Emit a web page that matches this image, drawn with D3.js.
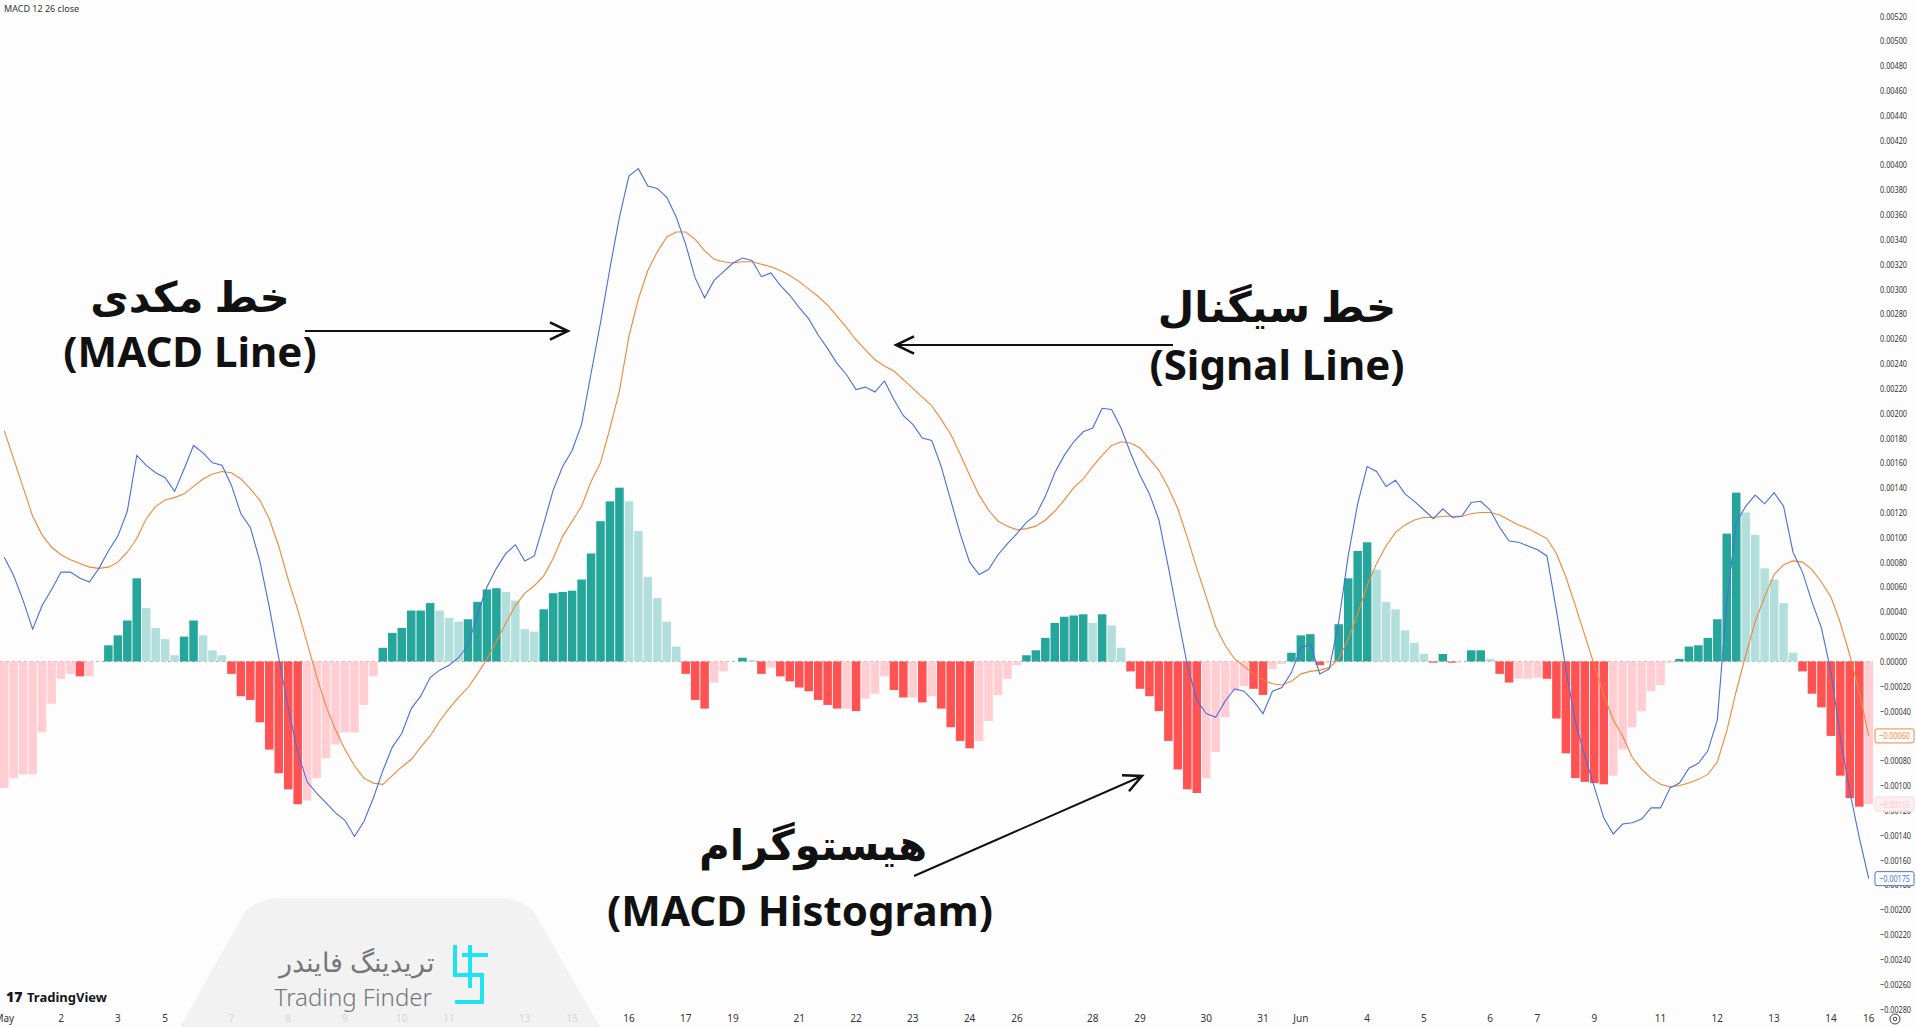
<!DOCTYPE html>
<html>
<head>
<meta charset="utf-8">
<script src="https://d3js.org/d3.v7.min.js"></script>
<style>
  body { margin: 0; background: #fdfdfd; overflow: hidden; }
  text { font-family: "Noto Sans", "DejaVu Sans", sans-serif; }
</style>
</head>
<body>
<script>
// histogram values (MACD - signal), one per bar
var hist = [
  -0.00102,-0.00094,-0.00091,-0.00091,-0.00057,-0.00034,-0.00014,-0.0001,-0.00012,-0.00012,
  0,
  0.00013,0.00021,0.00033,0.00067,0.00043,0.00027,0.00018,0.00005,0.0002,0.00033,0.00021,0.00009,0.00005,
  -0.0001,-0.00028,-0.00031,-0.00049,-0.00071,-0.0009,-0.00103,-0.00115,-0.00112,-0.00094,-0.00078,-0.00067,-0.00057,-0.00057,-0.00035,-0.00012,
  0.00011,0.00023,0.00027,0.00041,0.00041,0.00047,0.00041,0.00035,0.00032,0.00034,0.00048,0.00058,0.00059,0.00056,0.00049,0.00026,0.00024,0.00042,0.00055,0.00056,0.00057,0.00066,0.00087,0.00113,0.00129,0.0014,0.00129,0.00105,
  0.00068,0.00051,0.00032,0.00012,-0.0001,-0.00031,-0.00038,-0.00017,-0.00008,0,0.00003,0.00001,-0.0001,-0.00005,-0.00012,-0.00016,-0.00021,-0.00024,-0.00031,-0.00035,-0.00038,-0.00038,-0.0004,-0.0003,-0.00026,-0.00012,-0.00023,-0.00029,-0.00029,-0.00033,-0.00028,-0.00038,-0.00053,-0.00064,-0.0007,-0.00064,-0.00048,-0.00027,-0.00014,-0.00003,0.00005,0.00009,0.00019,0.00031,0.00036,0.00037,0.00038,0.00031,0.00038,0.00029,0.00011,-0.00008,-0.00022,-0.00028,-0.0004,-0.00064,-0.00087,-0.00103,-0.00106,-0.00094,-0.00073,-0.00045,-0.00024,-0.0002,-0.00022,-0.00027,-0.00006,
  -0.00002,0.00007,0.00021,0.00022,-0.00003,-0.00001,0.0003,0.00067,0.00089,0.00096,0.00074,0.00048,0.00042,0.00025,0.00015,0.00006,-0.00001,0.00006,-0.00001,0,0.00009,0.00009,0.00002,-0.0001,-0.00017,-0.00014,-0.00014,-0.00013,-0.00014,-0.00046,-0.00074,-0.00094,-0.00097,-0.00098,-0.00099,-0.00092,-0.00071,-0.00053,-0.0004,-0.00024,-0.00019,-0.00001,0.00002,0.00012,0.00013,0.00019,0.00034,0.00103,0.00136,0.0012,0.00102,0.00075,0.00066,0.00047,0.00007,-0.00008,-0.00026,-0.00037,-0.0006,-0.00092,-0.0011,-0.00117,-0.00115
];

// signal line values, one per bar
var signal = [
  0.00186,0.00163,0.0014,0.00117,0.00102,0.00092,0.00086,0.00082,0.00079,0.00076,
  0.00075,0.00076,0.0008,0.00088,0.00099,0.00115,0.00125,0.0013,0.00132,0.00135,
  0.00141,0.00147,0.00151,0.00153,0.00152,0.00147,0.00139,0.0013,0.00115,0.00093,
  0.00066,0.00042,0.00015,-0.00012,-0.00036,-0.00055,-0.00071,-0.00084,-0.00094,-0.00098,
  -0.00099,-0.00092,-0.00085,-0.00079,-0.00069,-0.0006,-0.00048,-0.00038,-0.00029,-0.00021,
  -0.0001,0.00002,0.00016,0.00031,0.00045,0.00055,0.00061,0.00069,0.00083,0.00101,
  0.00113,0.00125,0.00145,0.0016,0.00188,0.00218,0.00262,0.00292,0.00315,0.0033,
  0.00342,0.00346,0.00346,0.0034,0.00331,0.00324,0.00322,0.00321,0.00322,0.00322,
  0.0032,0.00318,0.00315,0.00311,0.00306,0.003,0.00294,0.00287,0.00278,0.00269,
  0.00259,0.00251,0.00243,0.00238,0.00234,0.00227,0.0022,0.00213,0.00206,0.00195,
  0.00183,0.00167,0.0015,0.00134,0.00122,0.00113,0.00109,0.00106,0.00107,0.00109,
  0.00114,0.00121,0.0013,0.0014,0.00147,0.00157,0.00166,0.00174,0.00177,0.00176,
  0.00172,0.00163,0.00154,0.0014,0.00123,0.001,0.00075,0.00052,0.00028,0.00013,
  0.00002,-0.00004,-0.0001,-0.00015,-0.00018,-0.00019,-0.00016,-0.0001,-0.00008,
  -0.00007,-0.00005,0.00002,0.00018,0.00038,0.00061,0.00079,0.00093,0.00104,0.0011,
  0.00114,0.00116,0.00116,0.00117,0.00117,0.00117,0.00119,0.0012,0.0012,0.00118,
  0.00114,0.0011,0.00107,0.00103,0.00099,0.00087,0.00068,0.00045,0.00021,-0.00003,
  -0.00027,-0.00047,-0.0006,-0.00077,-0.00087,-0.00094,-0.00099,-0.00101,-0.001,-0.00098,
  -0.00095,-0.00091,-0.00081,-0.00056,-0.00024,0.00005,0.00032,0.00052,0.0007,0.00078,
  0.00081,0.0008,0.00074,0.00064,0.00052,0.00031,0.00005,-0.00025,-0.0006
];

// macd line = signal + histogram
var macd = signal.map(function(s, i) { return s + hist[i]; });

var dateLabels = ["May","2","3","5","7","8","9","10","11","13","15","16","17","19","21","22","23","24","26","28","29","30","31","Jun","4","5","6","7","9","11","12","13","14","16"];
var dateBars   = [0,6,12,17,24,30,36,42,47,55,60,66,72,77,84,90,96,102,107,115,120,127,133,137,144,150,157,162,168,175,181,187,193,197];

var W = 1916, H = 1027, plotW = 1873;

var svg = d3.select("body").append("svg").attr("width", W).attr("height", H);
svg.append("rect").attr("width", W).attr("height", H).attr("fill", "#fdfdfd");

var x = d3.scaleBand().domain(d3.range(hist.length)).range([0, plotW]).paddingInner(0.1);
var y = d3.scaleLinear().domain([-0.0028, 0.0052]).range([1009, 16]);
var cx = function(i) { return x(i) + x.bandwidth() / 2; };

// y axis labels
var neg = function(v) { return v < -1e-9; };
var fmt = function(v) { var s = Math.abs(v).toFixed(5); return (neg(v) ? "\u2212" + s : s); };
var yTicks = d3.range(-0.0028, 0.00521, 0.0002);
svg.append("g").selectAll("text").data(yTicks).enter().append("text")
  .attr("x", 1880).attr("y", function(d) { return y(d) + 3.5; })
  .attr("font-size", 9.5).attr("fill", "#333")
  .attr("textLength", function(d) { return neg(d) ? 31 : 27; })
  .attr("lengthAdjust", "spacingAndGlyphs")
  .text(fmt);

// zero line
svg.append("line").attr("x1", 0).attr("x2", plotW).attr("y1", y(0)).attr("y2", y(0))
  .attr("stroke", "#b0b0b0").attr("stroke-dasharray", "3,3").attr("stroke-width", 1);

// histogram
var colorOf = function(d, i) {
  var prev = i > 0 ? hist[i - 1] : d;
  if (d >= 0) return d >= prev ? "#26a69a" : "#b2dfdb";
  return d < prev ? "#ff5252" : "#ffcdd2";
};
svg.append("g").selectAll("rect").data(hist).enter().append("rect")
  .attr("x", function(d, i) { return x(i); })
  .attr("width", x.bandwidth())
  .attr("y", function(d) { return Math.min(y(d), y(0)); })
  .attr("height", function(d) { return Math.abs(y(d) - y(0)); })
  .attr("fill", colorOf);

// lines
var line = function(arr) { return d3.line().x(function(d, i) { return cx(i); }).y(function(d) { return y(d); })(arr); };
svg.append("path").attr("d", line(signal)).attr("fill", "none").attr("stroke", "#f0883a").attr("stroke-width", 1.1);
svg.append("path").attr("d", line(macd)).attr("fill", "none").attr("stroke", "#4a6fdc").attr("stroke-width", 1.1);

// last value labels
function tag(v, col, bg, txtCol) {
  var g = svg.append("g").attr("transform", "translate(1875," + (y(v) - 7) + ")");
  g.append("rect").attr("width", 39).attr("height", 14).attr("rx", 2).attr("fill", bg).attr("stroke", col);
  g.append("text").attr("x", 4).attr("y", 10.5).attr("font-size", 9.5).attr("fill", txtCol)
    .attr("textLength", 31).attr("lengthAdjust", "spacingAndGlyphs").text(fmt(v));
}
var last = hist.length - 1;
tag(hist[last], "#ffd6da", "#fff0f2", "#ffc4cc");
tag(signal[last], "#f0883a", "#fff", "#f0883a");
tag(macd[last], "#4a6fdc", "#fff", "#4a6fdc");

// x axis labels
svg.append("g").selectAll("text").data(dateLabels).enter().append("text")
  .attr("x", function(d, i) { return cx(dateBars[i]); }).attr("y", 1022)
  .attr("text-anchor", "middle").attr("font-size", 10).attr("fill", "#333")
  .text(function(d) { return d; });

// settings icon
svg.append("circle").attr("cx", 1895).attr("cy", 1019).attr("r", 5).attr("fill", "none").attr("stroke", "#444");
svg.append("circle").attr("cx", 1895).attr("cy", 1019).attr("r", 1.8).attr("fill", "none").attr("stroke", "#444");

// title
svg.append("text").attr("x", 4).attr("y", 12).attr("font-size", 9).attr("fill", "#333").text("MACD 12 26 close");

// watermark
svg.append("path").attr("d", "M180,1027 L245,912 Q258,898 280,898 L500,898 Q522,898 534,912 L600,1027 Z")
  .attr("fill", "#f0f0f0").attr("opacity", 0.85);
svg.append("text").attr("x", 435).attr("y", 972).attr("text-anchor", "end").attr("font-size", 27)
  .attr("fill", "#777").attr("font-weight", 300).text("تریدینگ فایندر");
svg.append("text").attr("x", 432).attr("y", 1006).attr("text-anchor", "end").attr("font-size", 24)
  .attr("fill", "#777").attr("font-weight", 300).text("Trading Finder");
svg.append("path").attr("d", "M455,945 L455,975 L482,975 L482,1002 L455,1002 M462,955 L488,955 M470,945 L470,988")
  .attr("fill", "none").attr("stroke", "#1fe3f0").attr("stroke-width", 4);

// TradingView logo
svg.append("text").attr("x", 6).attr("y", 1002).attr("font-size", 14).attr("font-weight", 900).attr("fill", "#131722").text("17");
svg.append("text").attr("x", 27).attr("y", 1002).attr("font-size", 13).attr("font-weight", 700).attr("fill", "#131722").text("TradingView");

// annotations
function label(txt, xx, yy) {
  svg.append("text").attr("x", xx).attr("y", yy).attr("text-anchor", "middle")
    .attr("font-size", 42).attr("font-weight", 700).attr("fill", "#111").text(txt);
}
label("خط مکدی", 190, 312);
label("(MACD Line)", 190, 367);
label("خط سیگنال", 1277, 322);
label("(Signal Line)", 1277, 380);
label("هیستوگرام", 813, 860);
label("(MACD Histogram)", 800, 926);

function arrow(x1, y1, x2, y2) {
  svg.append("line").attr("x1", x1).attr("y1", y1).attr("x2", x2).attr("y2", y2).attr("stroke", "#111").attr("stroke-width", 2);
  var a = Math.atan2(y2 - y1, x2 - x1), L = 20, s = 0.45;
  svg.append("path").attr("d", "M" + (x2 - L * Math.cos(a - s)) + "," + (y2 - L * Math.sin(a - s)) +
    " L" + x2 + "," + y2 + " L" + (x2 - L * Math.cos(a + s)) + "," + (y2 - L * Math.sin(a + s)))
    .attr("fill", "none").attr("stroke", "#111").attr("stroke-width", 2.5);
}
arrow(305, 331, 568, 331);
arrow(1173, 345, 896, 345);
arrow(914, 876, 1142, 776);
</script>
</body>
</html>
